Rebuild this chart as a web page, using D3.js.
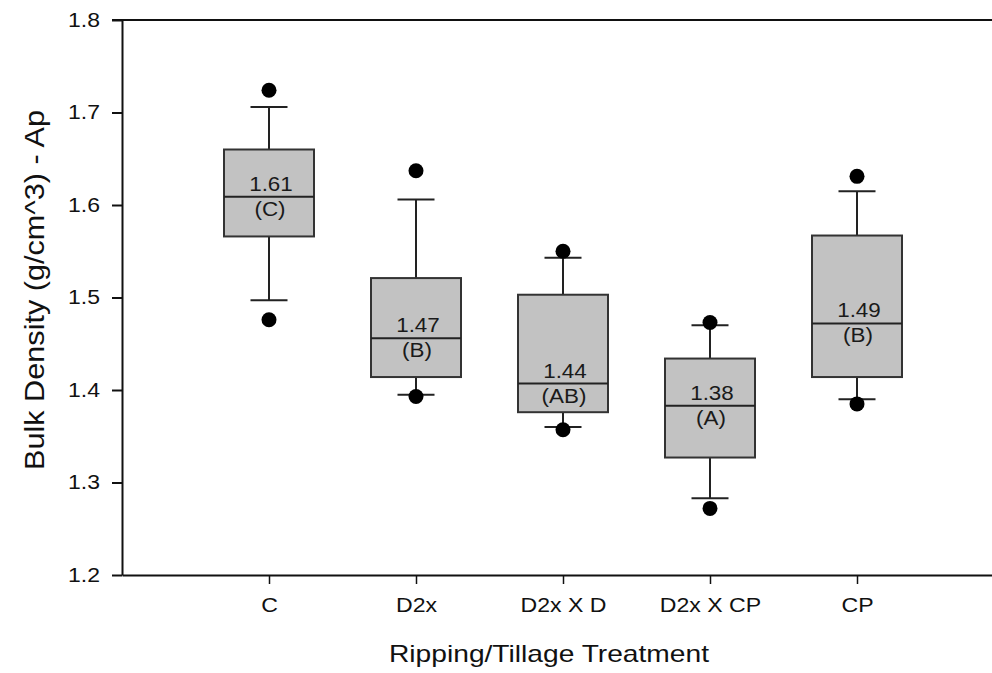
<!DOCTYPE html>
<html>
<head>
<meta charset="utf-8">
<script src="https://cdn.jsdelivr.net/npm/d3@7"></script>
<style>
  html, body { margin: 0; padding: 0; background: #fff; }
  svg { display: block; font-family: "Liberation Sans", Arial, sans-serif; }
</style>
</head>
<body>
<svg id="chart" width="992" height="673"></svg>
<script>
// ---- data ----
const categories = ["C", "D2x", "D2x X D", "D2x X CP", "CP"];
const q1 = [1.566, 1.414, 1.376, 1.327, 1.414];
const medians = [1.609, 1.456, 1.407, 1.383, 1.472];
const q3 = [1.660, 1.521, 1.503, 1.434, 1.567];
const whiskerLow = [1.497, 1.395, 1.360, 1.283, 1.390];
const whiskerHigh = [1.706, 1.606, 1.543, 1.470, 1.615];
const outlierLow = [1.476, 1.393, 1.357, 1.272, 1.385];
const outlierHigh = [1.724, 1.637, 1.550, 1.473, 1.631];
const meanLabels = ["1.61", "1.47", "1.44", "1.38", "1.49"];
const groupLabels = ["(C)", "(B)", "(AB)", "(A)", "(B)"];
const yTicks = [1.2, 1.3, 1.4, 1.5, 1.6, 1.7, 1.8];
const xTitle = "Ripping/Tillage Treatment";
const yTitle = "Bulk Density (g/cm^3) - Ap";

// ---- layout ----
const plotLeft = 122, plotRight = 1004, plotTop = 20, plotBottom = 575;
const boxW = 90, capW = 37, dotR = 7.5;

const svg = d3.select("#chart");
const y = d3.scaleLinear().domain([1.2, 1.8]).range([plotBottom, plotTop]);
const x = d3.scalePoint().domain(categories).range([plotLeft, plotRight]).padding(1);

function fitWidth(sel, w) {
  sel.attr("textLength", w).attr("lengthAdjust", "spacingAndGlyphs");
}
function stretch(sel, sx) {
  sel.each(function () {
    const len = this.getComputedTextLength();
    d3.select(this).attr("textLength", len * sx).attr("lengthAdjust", "spacingAndGlyphs");
  });
}

// top frame line
svg.append("line")
  .attr("x1", plotLeft - 10).attr("x2", plotRight)
  .attr("y1", y(1.8)).attr("y2", y(1.8))
  .attr("stroke", "#111").attr("stroke-width", 2);

// y axis
const gy = svg.append("g")
  .attr("transform", `translate(${plotLeft},0)`)
  .call(d3.axisLeft(y).tickValues(yTicks).tickFormat(d3.format(".1f")).tickSize(10).tickSizeOuter(0).tickPadding(12));
gy.select(".domain").attr("stroke", "#111").attr("stroke-width", 2);
gy.selectAll(".tick line").attr("stroke", "#111").attr("stroke-width", 2);
gy.selectAll(".tick text")
  .attr("font-size", 20).attr("fill", "#111")
  .attr("font-family", "Liberation Sans, Arial, sans-serif")
  .call(stretch, 1.15);

// x axis
const gx = svg.append("g")
  .attr("transform", `translate(0,${plotBottom})`)
  .call(d3.axisBottom(x).tickSize(9).tickSizeOuter(0).tickPadding(13));
gx.select(".domain").attr("stroke", "#111").attr("stroke-width", 2);
gx.selectAll(".tick line").attr("stroke", "#111").attr("stroke-width", 1.5);
gx.selectAll(".tick text")
  .attr("font-size", 21).attr("fill", "#111")
  .attr("font-family", "Liberation Sans, Arial, sans-serif")
  .call(stretch, 1.1);

// boxes
const idx = d3.range(categories.length);
const g = svg.append("g");

// whiskers
g.selectAll(".whU").data(idx).join("line")
  .attr("x1", i => x(categories[i])).attr("x2", i => x(categories[i]))
  .attr("y1", i => y(q3[i])).attr("y2", i => y(whiskerHigh[i]))
  .attr("stroke", "#222").attr("stroke-width", 2);
g.selectAll(".whL").data(idx).join("line")
  .attr("x1", i => x(categories[i])).attr("x2", i => x(categories[i]))
  .attr("y1", i => y(q1[i])).attr("y2", i => y(whiskerLow[i]))
  .attr("stroke", "#222").attr("stroke-width", 2);
// caps
g.selectAll(".capU").data(idx).join("line")
  .attr("x1", i => x(categories[i]) - capW / 2).attr("x2", i => x(categories[i]) + capW / 2)
  .attr("y1", i => y(whiskerHigh[i])).attr("y2", i => y(whiskerHigh[i]))
  .attr("stroke", "#222").attr("stroke-width", 2);
g.selectAll(".capL").data(idx).join("line")
  .attr("x1", i => x(categories[i]) - capW / 2).attr("x2", i => x(categories[i]) + capW / 2)
  .attr("y1", i => y(whiskerLow[i])).attr("y2", i => y(whiskerLow[i]))
  .attr("stroke", "#222").attr("stroke-width", 2);
// box
g.selectAll(".box").data(idx).join("rect")
  .attr("x", i => x(categories[i]) - boxW / 2)
  .attr("y", i => y(q3[i]))
  .attr("width", boxW)
  .attr("height", i => y(q1[i]) - y(q3[i]))
  .attr("fill", "#c2c2c2").attr("stroke", "#333").attr("stroke-width", 2);
// median
g.selectAll(".med").data(idx).join("line")
  .attr("x1", i => x(categories[i]) - boxW / 2).attr("x2", i => x(categories[i]) + boxW / 2)
  .attr("y1", i => y(medians[i])).attr("y2", i => y(medians[i]))
  .attr("stroke", "#222").attr("stroke-width", 2);
// outliers
g.selectAll(".outU").data(idx).join("circle")
  .attr("cx", i => x(categories[i])).attr("cy", i => y(outlierHigh[i]))
  .attr("r", dotR).attr("fill", "#000");
g.selectAll(".outL").data(idx).join("circle")
  .attr("cx", i => x(categories[i])).attr("cy", i => y(outlierLow[i]))
  .attr("r", dotR).attr("fill", "#000");
// labels
g.selectAll(".lblM").data(idx).join("text")
  .attr("x", i => x(categories[i]) + 2).attr("y", i => y(medians[i]) - 6)
  .attr("text-anchor", "middle").attr("font-size", 20).attr("fill", "#1a1a1a")
  .text(i => meanLabels[i])
  .call(stretch, 1.12);
g.selectAll(".lblG").data(idx).join("text")
  .attr("x", i => x(categories[i]) + 1).attr("y", i => y(medians[i]) + 19)
  .attr("text-anchor", "middle").attr("font-size", 20).attr("fill", "#1a1a1a")
  .text(i => groupLabels[i])
  .call(stretch, 1.12);

// axis titles
svg.append("text")
  .attr("x", 549).attr("y", 662)
  .attr("text-anchor", "middle").attr("font-size", 24).attr("fill", "#111")
  .text(xTitle)
  .call(fitWidth, 320);
svg.append("text")
  .attr("transform", `translate(44,290) rotate(-90)`)
  .attr("text-anchor", "middle").attr("font-size", 28).attr("fill", "#111")
  .text(yTitle)
  .call(fitWidth, 360);
</script>
</body>
</html>
